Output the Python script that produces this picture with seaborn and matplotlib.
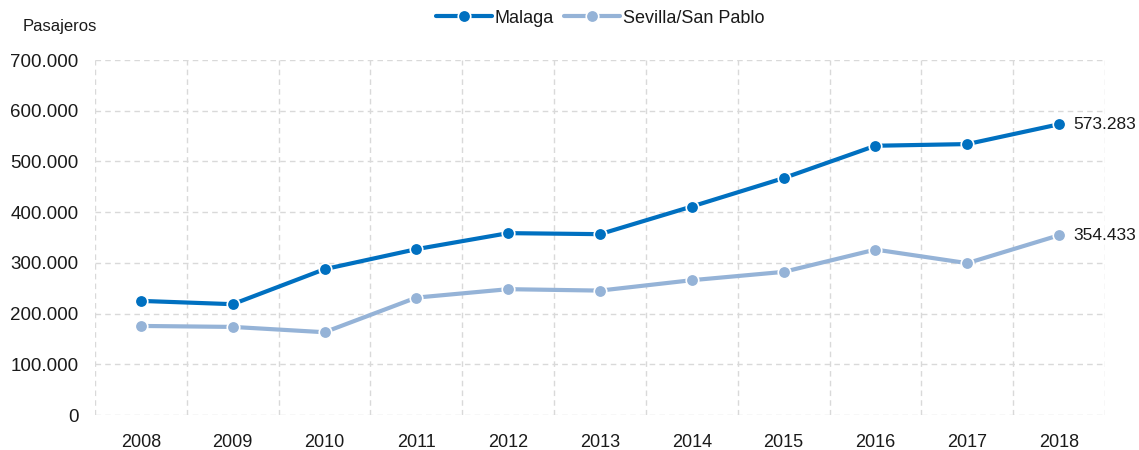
import matplotlib
matplotlib.use("Agg")
import matplotlib.pyplot as plt
import seaborn as sns
import pandas as pd
from matplotlib.ticker import FuncFormatter, MultipleLocator, FixedLocator

years = ["2008", "2009", "2010", "2011", "2012", "2013", "2014", "2015", "2016", "2017", "2018"]
malaga = [225000, 218500, 287500, 327000, 358600, 356600, 411100, 467100, 530900, 534200, 573283]
sevilla = [175600, 173700, 163200, 231500, 248100, 245300, 265800, 282200, 326200, 299400, 354433]
series_names = ["Malaga", "Sevilla/San Pablo"]
colors = ["#0070C0", "#95B3D7"]

df = pd.DataFrame({
    "year": years * 2,
    "value": malaga + sevilla,
    "serie": [series_names[0]] * len(years) + [series_names[1]] * len(years),
})

sns.set_theme(style="white")
plt.rcParams["font.family"] = ["Liberation Sans", "DejaVu Sans"]

fig = plt.figure(figsize=(11.39, 4.5), dpi=100)
ax = fig.add_axes([95 / 1139, 1 - 415 / 450, (1105 - 95) / 1139, (415 - 60) / 450])

sns.lineplot(data=df, x="year", y="value", hue="serie", palette=colors,
             marker="o", markersize=9, markeredgecolor="white", markeredgewidth=1.2,
             linewidth=3.0, ax=ax, sort=False)

ax.set_xlim(-0.5, len(years) - 0.5)
ax.set_ylim(0, 700000)
ax.yaxis.set_major_locator(MultipleLocator(100000))
ax.yaxis.set_major_formatter(FuncFormatter(lambda v, p: f"{int(v):,}".replace(",", ".")))

# vertical gridlines at category boundaries
ax.xaxis.set_minor_locator(FixedLocator([i - 0.5 for i in range(len(years) + 1)]))
ax.grid(False)
ax.grid(axis="y", which="major", color="#D9D9D9", linestyle=(0, (4, 3)), linewidth=1)
ax.grid(axis="x", which="minor", color="#D9D9D9", linestyle=(0, (4, 3)), linewidth=1)
ax.set_axisbelow(True)
for s in ax.spines.values():
    s.set_visible(False)

ax.tick_params(axis="both", which="both", length=0, colors="#1a1a1a")
ax.tick_params(axis="x", pad=14, labelsize=13)
ax.tick_params(axis="y", pad=12, labelsize=13.5)
ax.set_xlabel("")
ax.set_ylabel("")

fig.text(23 / 1139, 1 - 27 / 450, "Pasajeros", fontsize=12, va="center", ha="left", color="#1a1a1a")

# end labels
ax.annotate(f"{malaga[-1]:,}".replace(",", "."), (len(years) - 1, malaga[-1]),
            xytext=(10, 0), textcoords="offset points", va="center", fontsize=12.5, color="#1a1a1a")
ax.annotate(f"{sevilla[-1]:,}".replace(",", "."), (len(years) - 1, sevilla[-1]),
            xytext=(10, 0), textcoords="offset points", va="center", fontsize=12.5, color="#1a1a1a")

leg = ax.legend(loc="center", bbox_to_anchor=(0.5, 1 + 42 / 355), ncol=2, frameon=False,
                fontsize=13, handlelength=3.1, handletextpad=0.15, columnspacing=0.6)
for t in leg.get_texts():
    t.set_color("#1a1a1a")

fig.savefig("out.png", dpi=100)
